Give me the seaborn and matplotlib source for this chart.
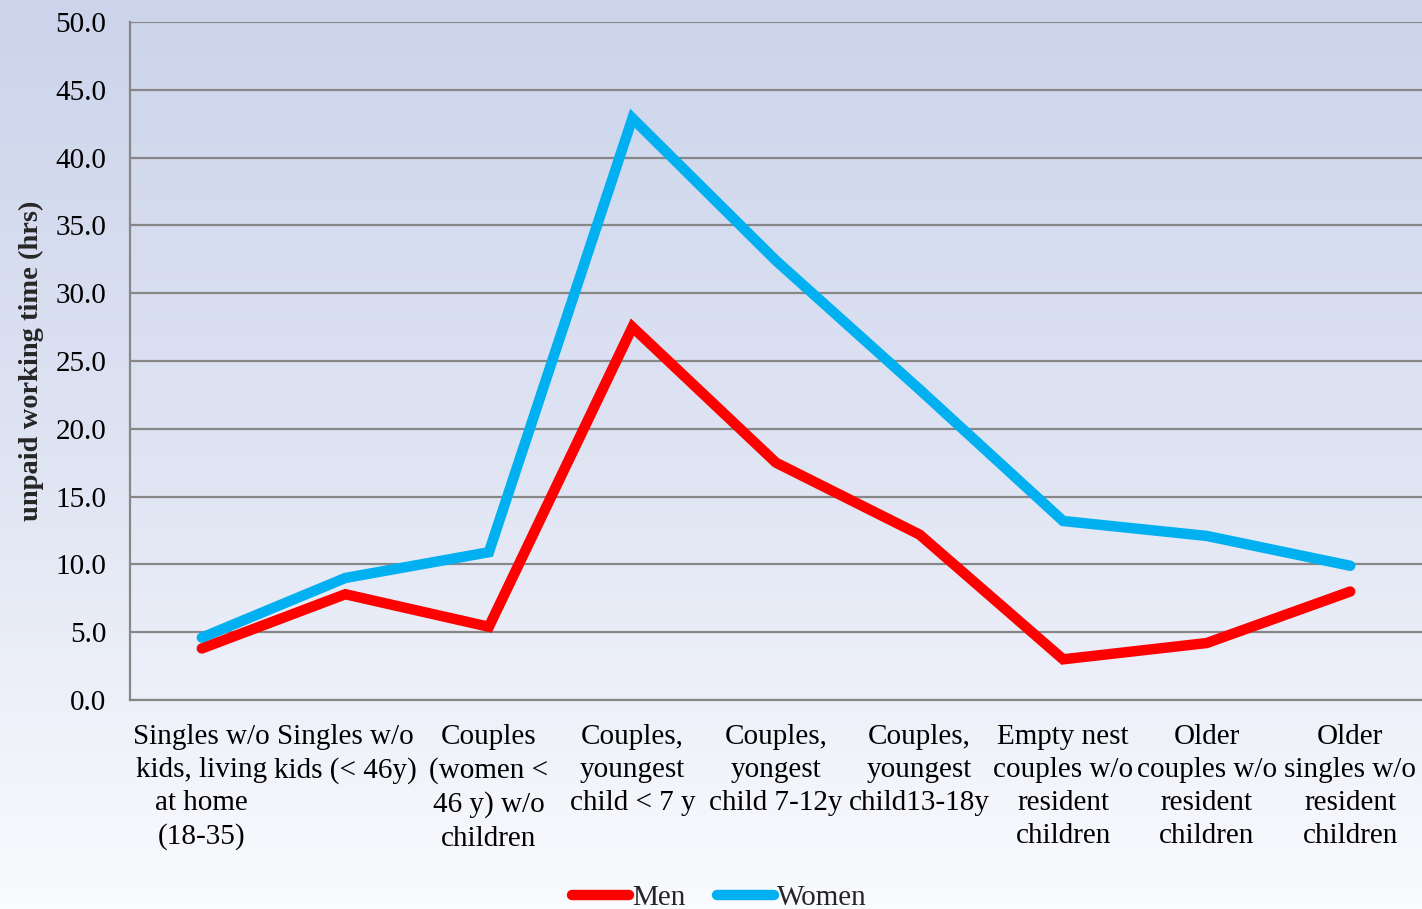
import numpy as np
import pandas as pd
import matplotlib
matplotlib.use("Agg")
import matplotlib.pyplot as plt
import seaborn as sns
from matplotlib.colors import LinearSegmentedColormap

categories = [
    "Singles w/o\nkids, living\nat home\n(18-35)",
    "Singles w/o\nkids (< 46y)",
    "Couples\n(women <\n46 y) w/o\nchildren",
    "Couples,\nyoungest\nchild < 7 y",
    "Couples,\nyongest\nchild 7-12y",
    "Couples,\nyoungest\nchild13-18y",
    "Empty nest\ncouples w/o\nresident\nchildren",
    "Older\ncouples w/o\nresident\nchildren",
    "Older\nsingles w/o\nresident\nchildren",
]
men = [3.8, 7.8, 5.4, 27.5, 17.5, 12.2, 3.0, 4.2, 8.0]
women = [4.6, 9.0, 10.9, 42.9, 32.4, 22.9, 13.2, 12.1, 9.9]
yticks = [0, 5, 10, 15, 20, 25, 30, 35, 40, 45, 50]

df = pd.DataFrame({
    "group": categories * 2,
    "hours": men + women,
    "sex": ["Men"] * len(men) + ["Women"] * len(women),
})

sns.set_theme(style="white")
plt.rcParams["font.family"] = ["Liberation Serif", "DejaVu Serif"]

fig = plt.figure(figsize=(14.22, 9.09), dpi=100)

# soft vertical gradient behind everything
bg = fig.add_axes([0, 0, 1, 1], zorder=-10)
grad = np.linspace(0, 1, 256).reshape(-1, 1)
cmap = LinearSegmentedColormap.from_list("bg", ["#cbd4eb", "#dfe4f3", "#fafbfe"])
bg.imshow(grad, aspect="auto", cmap=cmap, extent=[0, 1, 0, 1], origin="upper")
bg.set_axis_off()

ax = fig.add_axes([130 / 1422, 1 - 700 / 909, 1 - 130 / 1422, (700 - 22) / 909])
ax.set_facecolor("none")

sns.lineplot(
    data=df, x="group", y="hours", hue="sex",
    palette={"Men": "#ff0000", "Women": "#00b0f0"},
    linewidth=7.5, sort=False, ax=ax, legend=True,
)
for ln in ax.lines:
    ln.set_solid_capstyle("round")
    ln.set_solid_joinstyle("miter")

ax.set_xlim(-0.5, len(categories) - 0.5)
ax.set_ylim(0, 50)
ax.set_yticks(yticks)
ax.set_yticklabels([f"{v:.1f}" for v in yticks])
ax.yaxis.grid(True, color="#878787", linewidth=1.6)
ax.xaxis.grid(False)
ax.set_axisbelow(True)

for side in ["top", "right"]:
    ax.spines[side].set_visible(False)
for side in ["left", "bottom"]:
    ax.spines[side].set_color("#878787")
    ax.spines[side].set_linewidth(1.6)

ax.tick_params(axis="y", length=0, pad=17, labelsize=21, labelcolor="black")
ax.tick_params(axis="x", length=0, pad=17, labelsize=21, labelcolor="black")
for lbl in ax.get_xticklabels():
    lbl.set_linespacing(1.36)
    lbl.set_horizontalalignment("center")

ax.set_xlabel("")
ax.set_ylabel("unpaid working time (hrs)", fontsize=20.5, fontweight="bold", labelpad=8)

handles, labels = ax.get_legend_handles_labels()
ax.legend_.remove()
fig.legend(
    handles, labels, loc="center", bbox_to_anchor=(0.506, 0.012),
    ncol=2, frameon=False, fontsize=21, handlelength=1.95,
    handletextpad=0.1, columnspacing=1.1,
)

fig.savefig("out.png", dpi=100)
